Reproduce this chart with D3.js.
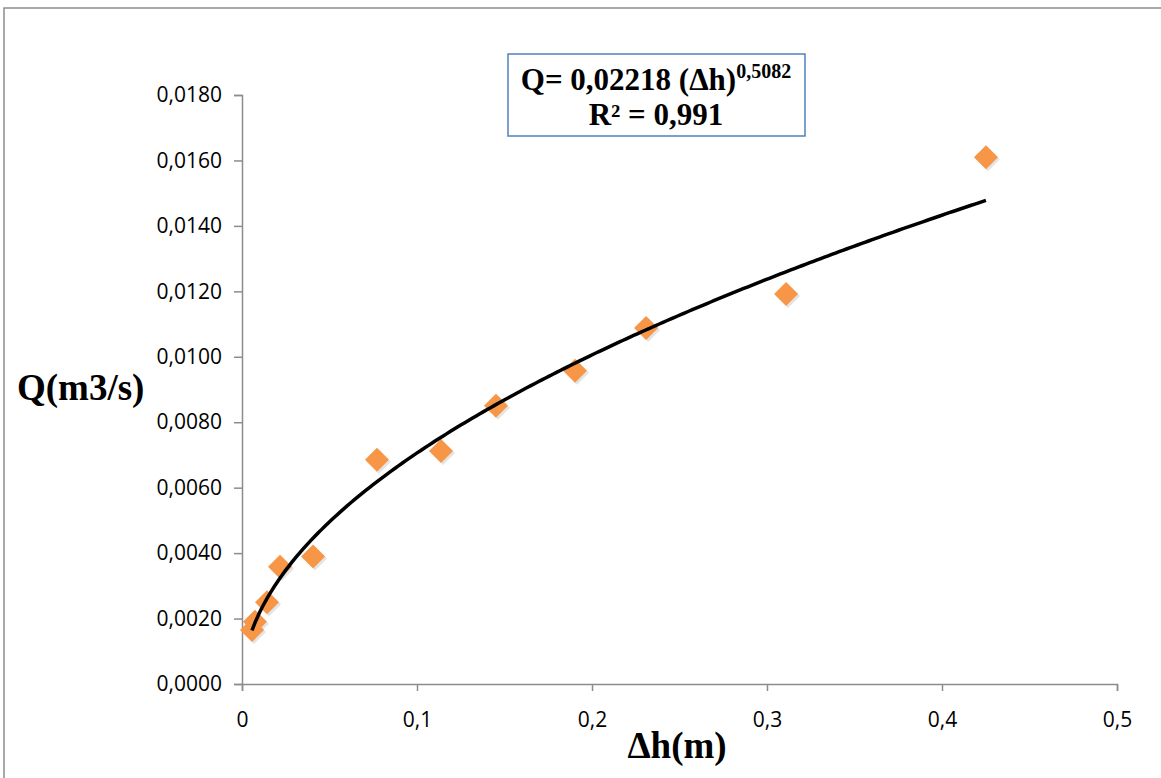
<!DOCTYPE html>
<html>
<head>
<meta charset="utf-8">
<script src="https://cdn.jsdelivr.net/npm/d3@7"></script>
<style>
  body { margin: 0; background: #fff; }
  svg { display: block; }
</style>
</head>
<body>
<div class="canvas"></div>
<script>
// data
const dh = [0.0057, 0.0074, 0.0143, 0.0217, 0.0406, 0.0771, 0.1137, 0.1451, 0.1903, 0.2309, 0.3109, 0.4251]
const q = [0.00165, 0.0019, 0.0025, 0.00358, 0.0039, 0.00685, 0.00712, 0.0085, 0.00957, 0.01088, 0.01192, 0.0161]
const xTicks = [0, 0.1, 0.2, 0.3, 0.4, 0.5]
const yTicks = [0, 0.002, 0.004, 0.006, 0.008, 0.010, 0.012, 0.014, 0.016, 0.018]
const eqCoef = "0,02218"
const eqExp = "0,5082"
const r2 = "0,991"

const dims = { width: 1161, height: 778 }
const plot = { left: 242, right: 1117, top: 95, bottom: 684 }

const svg = d3.select(".canvas")
    .append("svg")
    .attr("width", dims.width)
    .attr("height", dims.height)

// outer chart border
svg.append("rect")
    .attr("x", 4).attr("y", 8)
    .attr("width", 1200).attr("height", 820)
    .attr("fill", "none")
    .attr("stroke", "#8c8c8c")
    .attr("stroke-width", 1.5)

const x = d3.scaleLinear().domain([0, 0.5]).range([plot.left, plot.right])
const y = d3.scaleLinear().domain([0, 0.018]).range([plot.bottom, plot.top])

const comma = f => s => d3.format(f)(s).replace(".", ",")

/**
 * Axes
 */
const xAxis = svg.append("g")
    .attr("transform", `translate(0, ${plot.bottom})`)
    .call(d3.axisBottom(x).tickValues(xTicks).tickSize(7).tickPadding(21)
        .tickFormat(d => d === 0 ? "0" : comma(".1f")(d)))

const yAxis = svg.append("g")
    .attr("transform", `translate(${plot.left}, 0)`)
    .call(d3.axisLeft(y).tickValues(yTicks).tickSize(8).tickPadding(12)
        .tickFormat(comma(".4f")))

;[xAxis, yAxis].forEach(a => {
    a.select(".domain").attr("stroke", "#8c8c8c").attr("stroke-width", 1.5)
    a.selectAll(".tick line").attr("stroke", "#8c8c8c").attr("stroke-width", 1.5)
    a.selectAll(".tick text")
        .attr("fill", "#000")
        .style("font-family", "'Open Sans', 'Liberation Sans', sans-serif")
        .style("font-size", "21px")
})
xAxis.selectAll(".tick text").attr("dy", "0.71em")

// axis titles
svg.append("text")
    .attr("x", 17).attr("y", 400)
    .style("font-family", "'Liberation Serif', serif")
    .style("font-weight", "bold")
    .style("font-size", "37px")
    .text("Q(m3/s)")

svg.append("text")
    .attr("x", 677).attr("y", 758)
    .attr("text-anchor", "middle")
    .style("font-family", "'Liberation Serif', serif")
    .style("font-weight", "bold")
    .style("font-size", "37px")
    .text("Δh(m)")

/**
 * Power trendline, least squares in log space (like the spreadsheet does)
 */
const lx = dh.map(Math.log), ly = q.map(Math.log)
const mx = d3.mean(lx), my = d3.mean(ly)
const b = d3.sum(lx, (v, i) => (v - mx) * (ly[i] - my)) / d3.sum(lx, v => (v - mx) ** 2)
const a = Math.exp(my - b * mx)
const xs = d3.range(0, 201).map(i => dh[0] + (d3.max(dh) - dh[0]) * i / 200)

const markerPath = "M0,-12L12,0L0,12L-12,0Z"

// marker shadows
svg.append("g").selectAll("path")
    .data(dh)
    .join("path")
    .attr("d", markerPath)
    .attr("transform", (d, i) => `translate(${x(d) + 2}, ${y(q[i]) + 2})`)
    .attr("fill", "#c9c9c9")
    .attr("opacity", 0.5)

svg.append("g").selectAll("path")
    .data(dh)
    .join("path")
    .attr("d", markerPath)
    .attr("transform", (d, i) => `translate(${x(d)}, ${y(q[i])})`)
    .attr("fill", "#f79646")

svg.append("path")
    .datum(xs)
    .attr("fill", "none")
    .attr("stroke", "#000")
    .attr("stroke-width", 3.5)
    .attr("d", d3.line().x(d => x(d)).y(d => y(a * Math.pow(d, b))))

/**
 * Equation box
 */
svg.append("rect")
    .attr("x", 508).attr("y", 54)
    .attr("width", 297).attr("height", 82)
    .attr("fill", "#fff")
    .attr("stroke", "#4f81bd")
    .attr("stroke-width", 1.5)

const eq = svg.append("text")
    .attr("x", 656).attr("y", 90)
    .attr("text-anchor", "middle")
    .style("font-family", "'Liberation Serif', serif")
    .style("font-weight", "bold")
    .style("font-size", "31px")
eq.append("tspan").text(`Q= ${eqCoef} (Δh)`)
eq.append("tspan").attr("dy", -12).style("font-size", "20px").text(eqExp)

svg.append("text")
    .attr("x", 656).attr("y", 125)
    .attr("text-anchor", "middle")
    .style("font-family", "'Liberation Serif', serif")
    .style("font-weight", "bold")
    .style("font-size", "31px")
    .text(`R² = ${r2}`)
</script>
</body>
</html>
